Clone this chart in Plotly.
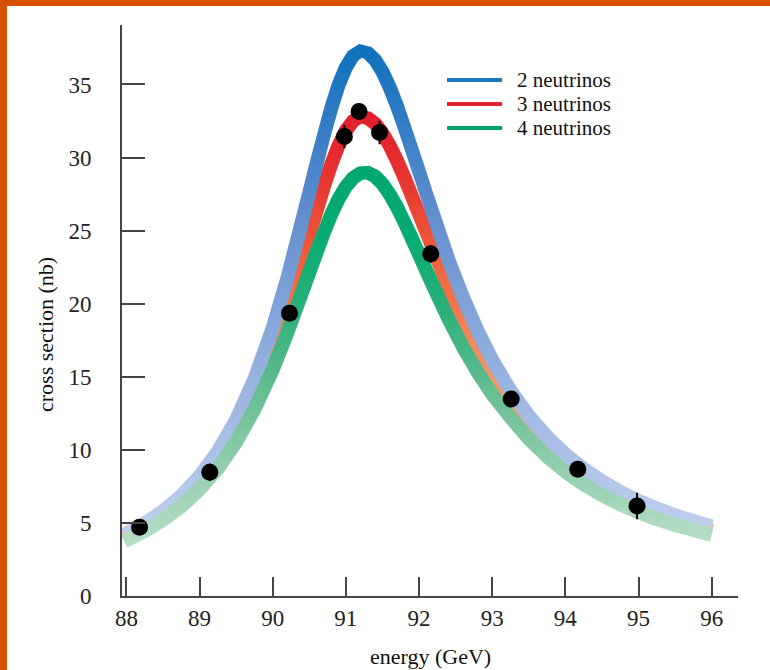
import math
import plotly.graph_objects as go

# ---------------- data ----------------
energy_grid = [87.97, 88.25, 88.5, 88.75, 89.0, 89.25, 89.5, 89.75, 90.0, 90.2,
               90.4, 90.5, 90.6, 90.7, 90.8, 90.9, 91.0, 91.1, 91.2, 91.3,
               91.4, 91.5, 91.6, 91.7, 91.8, 91.9, 92.0, 92.1, 92.2, 92.4,
               92.6, 92.8, 93.0, 93.25, 93.5, 93.75, 94.0, 94.25, 94.5, 94.75,
               95.0, 95.25, 95.5, 95.75, 96.0]

xsec_2nu = [4.19, 4.96, 5.81, 6.86, 8.20, 9.89, 12.06, 14.84, 18.35, 21.74,
            25.58, 27.60, 29.62, 31.58, 33.38, 34.95, 36.17, 36.97, 37.30, 37.16,
            36.67, 35.87, 34.79, 33.52, 32.10, 30.58, 29.03, 27.47, 25.94, 23.04,
            20.44, 18.15, 16.16, 14.06, 12.33, 10.89, 9.70, 8.69, 7.85, 7.13,
            6.51, 5.98, 5.52, 5.12, 4.76]

xsec_3nu = [3.96, 4.67, 5.46, 6.44, 7.66, 9.21, 11.16, 13.64, 16.74, 19.68,
            22.97, 24.68, 26.39, 28.02, 29.53, 30.82, 31.84, 32.51, 32.80, 32.70,
            32.32, 31.67, 30.81, 29.78, 28.63, 27.40, 26.13, 24.85, 23.58, 21.17,
            18.96, 17.01, 15.29, 13.45, 11.85, 10.50, 9.35, 8.40, 7.60, 6.90,
            6.20, 5.70, 5.20, 4.80, 4.45]

xsec_4nu = [3.75, 4.44, 5.20, 6.13, 7.29, 8.73, 10.53, 12.77, 15.49, 18.01,
            20.76, 22.17, 23.55, 24.88, 26.10, 27.16, 28.01, 28.61, 28.94, 28.97,
            28.71, 28.20, 27.48, 26.60, 25.59, 24.51, 23.38, 22.25, 21.13, 18.99,
            17.05, 15.33, 13.82, 12.22, 10.77, 9.54, 8.51, 7.64, 6.90, 6.27,
            5.73, 5.26, 4.85, 4.50, 4.18]

data_energy = [88.18, 89.14, 90.23, 90.98, 91.18, 91.46, 92.16, 93.26, 94.17, 94.98]
data_xsec = [4.70, 8.47, 19.35, 31.44, 33.15, 31.71, 23.41, 13.48, 8.67, 6.16]
data_err = [0.5, 0.6, 0.5, 0.8, 0.5, 0.8, 0.6, 0.5, 0.5, 0.9]

series_names = ["2 neutrinos", "3 neutrinos", "4 neutrinos"]
x_ticks = [88, 89, 90, 91, 92, 93, 94, 95, 96]
y_ticks = [0, 5, 10, 15, 20, 25, 30, 35]

# ---------------- style ----------------
FONT = "Liberation Serif"
BAND_W = 14
legend_colors = ["#1d78be", "#e22232", "#00a163"]

blue_scale = [(0, (196, 209, 238)), (4, (194, 208, 238)), (7, (182, 200, 234)),
              (13, (160, 184, 226)), (20, (128, 162, 216)), (25, (104, 146, 208)),
              (30, (70, 130, 200)), (34, (38, 120, 193)), (37.6, (14, 114, 188))]
red_scale = [(0, (246, 172, 128)), (11, (246, 166, 120)), (13, (244, 158, 110)),
             (17, (244, 138, 94)), (21, (240, 110, 70)), (25, (236, 80, 56)),
             (29, (230, 50, 48)), (33.2, (226, 28, 44))]
green_scale = [(0, (184, 224, 198)), (4, (180, 222, 196)), (8, (152, 208, 176)),
               (12, (120, 196, 156)), (16, (80, 184, 136)), (20, (40, 176, 122)),
               (24, (10, 172, 114)), (29.4, (0, 166, 108))]

L, R, T, B = 122, 32, 25, 74
W, H = 770, 670
pw, ph = W - L - R, H - T - B
XR = [87.94, 96.36]
YR = [0, 39.07]


def to_px(x, y):
    return (L + (x - XR[0]) / (XR[1] - XR[0]) * pw,
            T + (YR[1] - y) / (YR[1] - YR[0]) * ph)


def to_data(X, Y):
    return (XR[0] + (X - L) / pw * (XR[1] - XR[0]),
            YR[1] - (Y - T) / ph * (YR[1] - YR[0]))


def scale_to_colorscale(scale):
    top = scale[-1][0]
    return [[v / top, "rgb(%d,%d,%d)" % c] for v, c in scale]


def band_polygon(xs, ys, width):
    pts = [to_px(x, y) for x, y in zip(xs, ys)]
    n = len(pts)
    up, lo = [], []
    for i in range(n):
        a = pts[max(i - 1, 0)]
        b = pts[min(i + 1, n - 1)]
        tx, ty = b[0] - a[0], b[1] - a[1]
        norm = math.hypot(tx, ty)
        nx, ny = -ty / norm, tx / norm
        h = width / 2.0
        up.append(to_data(pts[i][0] + nx * h, pts[i][1] + ny * h))
        lo.append(to_data(pts[i][0] - nx * h, pts[i][1] - ny * h))
    ring = up + lo[::-1] + [up[0]]
    return [p[0] for p in ring], [p[1] for p in ring]


fig = go.Figure()


def add_band(xs, ys, scale):
    px_, py_ = band_polygon(xs, ys, BAND_W)
    fig.add_trace(go.Scatter(
        x=px_, y=py_, mode="lines", fill="toself",
        line=dict(width=0, color="rgba(0,0,0,0)"),
        fillgradient=dict(type="vertical",
                          colorscale=scale_to_colorscale(scale),
                          start=0, stop=scale[-1][0]),
        hoverinfo="skip", showlegend=False))


# draw order: 3 nu underneath, then 2 nu, then 4 nu
add_band(energy_grid, xsec_3nu, red_scale)
add_band(energy_grid, xsec_2nu, blue_scale)
add_band(energy_grid, xsec_4nu, green_scale)

fig.add_trace(go.Scatter(
    x=data_energy, y=data_xsec, mode="markers",
    marker=dict(color="black", size=17, line=dict(width=0)),
    error_y=dict(type="data", array=data_err, visible=True,
                 color="black", thickness=2, width=0),
    showlegend=False))

# ---------------- layout ----------------


def px_to_paper(px, py):
    return (px - L) / pw, (H - B - py) / ph


shapes = []
annotations = []

# legend drawn by hand
leg_rows = [80, 104, 128]
for name, col, py in zip(series_names, legend_colors, leg_rows):
    x0, y0 = px_to_paper(447, py)
    x1, _ = px_to_paper(502, py)
    shapes.append(dict(type="line", xref="paper", yref="paper",
                       x0=x0, x1=x1, y0=y0, y1=y0,
                       line=dict(color=col, width=4)))
    tx, _ = px_to_paper(515, py)
    annotations.append(dict(xref="paper", yref="paper", x=tx, y=y0,
                            xanchor="left", yanchor="middle", showarrow=False,
                            text=name, font=dict(family=FONT, size=21, color="#111")))

# axis titles
ax, ay = px_to_paper(45, 335)
annotations.append(dict(xref="paper", yref="paper", x=ax, y=ay, textangle=-90,
                        xanchor="center", yanchor="middle", showarrow=False,
                        text="cross section (nb)",
                        font=dict(family=FONT, size=22, color="#111")))
bx, by = px_to_paper(430, 656)
annotations.append(dict(xref="paper", yref="paper", x=bx, y=by,
                        xanchor="center", yanchor="middle", showarrow=False,
                        text="energy (GeV)",
                        font=dict(family=FONT, size=22, color="#111")))

# orange frame (top and left)
ORANGE = "#d65000"
lx0, ty0 = px_to_paper(-2, -2)
lx1, ty1 = px_to_paper(7, 6)
rx, by0 = px_to_paper(772, 672)
shapes.append(dict(type="rect", xref="paper", yref="paper", x0=lx0, x1=lx1,
                   y0=by0, y1=ty0, fillcolor=ORANGE, line=dict(width=0), layer="above"))
shapes.append(dict(type="rect", xref="paper", yref="paper", x0=lx0, x1=rx,
                   y0=ty1, y1=ty0, fillcolor=ORANGE, line=dict(width=0), layer="above"))

axis_common = dict(showline=True, linecolor="#444", linewidth=2,
                   ticks="inside", tickwidth=1.5, tickcolor="#444",
                   showgrid=False, zeroline=False,
                   tickfont=dict(family=FONT, size=23, color="#222"))

fig.update_layout(
    width=W, height=H,
    margin=dict(l=L, r=R, t=T, b=B, pad=0),
    paper_bgcolor="white", plot_bgcolor="white",
    showlegend=False,
    xaxis=dict(range=XR, tickvals=x_ticks, ticklen=19,
               ticklabelstandoff=0, **axis_common),
    yaxis=dict(range=YR, tickvals=y_ticks, ticklen=23,
               ticklabelstandoff=24, **axis_common),
    shapes=shapes, annotations=annotations,
)

fig.write_html("out.html")
